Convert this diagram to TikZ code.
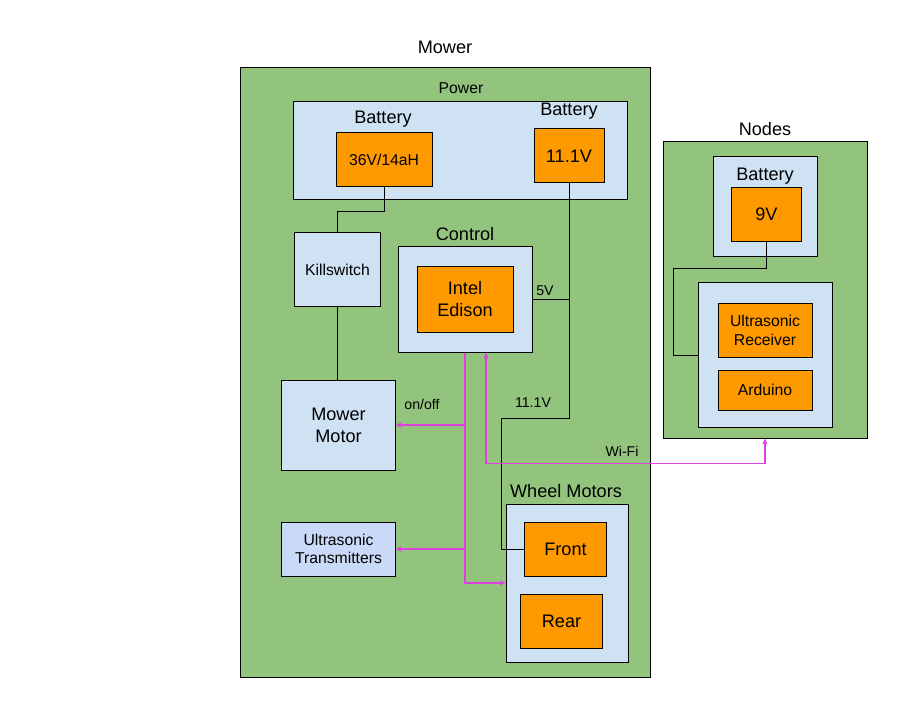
\documentclass[tikz,border=0pt]{standalone}
\usepackage{fontspec}
\setmainfont{Liberation Sans}
\usetikzlibrary{arrows.meta}
\definecolor{mowgreen}{RGB}{147,196,125}
\definecolor{paleblue}{RGB}{207,226,243}
\definecolor{lavblue}{RGB}{201,218,248}
\definecolor{partorange}{RGB}{255,153,0}
\definecolor{sigpink}{RGB}{224,64,224}
\begin{document}
\begin{tikzpicture}[x=0.75pt,y=0.75pt,yscale=-1,xscale=1,
    box/.style={draw=black,line width=0.75pt,inner sep=0pt,align=center},
    area/.style={box,fill=mowgreen},
    group/.style={box,fill=paleblue},
    part/.style={box,fill=partorange},
    bigtxt/.style={font=\fontsize{13.6}{16.5}\selectfont},
    smalltxt/.style={font=\fontsize{11.8}{14}\selectfont},
    tinytxt/.style={font=\fontsize{10.6}{12}\selectfont},
    wire/.style={draw=black,line width=0.75pt},
    sig/.style={draw=sigpink,line width=1.1pt,-{Stealth[length=4.5pt,width=4pt]}}]
\useasboundingbox (0,0) rectangle (911,713);
% Mower
\node [area,minimum width=307pt,minimum height=458pt] (mower) at (445.5,372.5) {};
\node [bigtxt] (mowerlbl) at (445,47) {Mower};
\node [smalltxt] (powerlbl) at (461,88) {Power};
\node [group,minimum width=251pt,minimum height=73.5pt] (power) at (460.5,151) {};
\node [bigtxt] (batlbl) at (383,119) {Battery};
\node [part,minimum width=72pt,minimum height=41pt,smalltxt] (bigbat) at (384,159.5) {36V/14aH};
\node [bigtxt] (batlblb) at (569,111) {Battery};
\node [part,minimum width=52.5pt,minimum height=40.5pt,bigtxt] (smallbat) at (569,156) {11.1V};
\node [group,minimum width=65pt,minimum height=55pt,smalltxt] (kill) at (337.5,269.5) {Killswitch};
\node [bigtxt] (ctrllbl) at (465,234) {Control};
\node [group,minimum width=100.5pt,minimum height=79pt] (control) at (465,299.5) {};
\node [part,minimum width=72pt,minimum height=50pt,bigtxt] (edison) at (465,299.5) {Intel\\Edison};
\node [group,minimum width=85pt,minimum height=67.5pt,bigtxt] (mowermotor) at (338.5,425) {Mower\\Motor};
\node [box,fill=lavblue,minimum width=85pt,minimum height=40.5pt,smalltxt] (ustx) at (338.5,549) {Ultrasonic\\Transmitters};
\node [bigtxt] (wheellbl) at (566,491) {Wheel Motors};
\node [group,minimum width=91.5pt,minimum height=118.5pt] (wheels) at (567,583) {};
\node [part,minimum width=61pt,minimum height=40.5pt,bigtxt] (front) at (565.5,549) {Front};
\node [part,minimum width=61pt,minimum height=41pt,bigtxt] (rear) at (561.5,621.5) {Rear};
% Nodes
\node [area,minimum width=153pt,minimum height=222pt] (nodes) at (765,290) {};
\node [bigtxt] (nodeslbl) at (765,129) {Nodes};
\node [group,minimum width=78pt,minimum height=75pt] (nbat) at (765,207) {};
\node [bigtxt] (nbatlbl) at (765,176) {Battery};
\node [part,minimum width=53pt,minimum height=41pt,bigtxt] (nine) at (766.5,214.5) {9V};
\node [group,minimum width=100.5pt,minimum height=108pt] (rxgroup) at (765,355) {};
\node [part,minimum width=70.5pt,minimum height=41pt,smalltxt] (rx) at (765,330.5) {Ultrasonic\\Receiver};
\node [part,minimum width=70.5pt,minimum height=30pt,smalltxt] (ard) at (765,390) {Arduino};
% power wires
\draw [wire] (bigbat.south) -- ++(0,24) -| (kill.north);
\draw [wire] (kill.south) -- (kill.south |- mowermotor.north);
\draw [wire] (smallbat.south) -- ++(0,235) -- ++(-68,0) |- (front.west);
\draw [wire] (control.east) -- (control.east -| smallbat.south);
\draw [wire] (nine.south) -- ++(0,26) -- ++(-93.5,0) |- (rxgroup.west);
\node [tinytxt] (fivelbl) at (545,291) {5V};
\node [tinytxt] (elevenlbl) at (533,403) {11.1V};
% signals
\draw [sig] (control.south) |- (wheels.west);
\draw [sig] (control.south |- mowermotor.east) -- (mowermotor.east);
\draw [sig] (control.south |- ustx.east) -- (ustx.east);
\draw [sig,{Stealth[length=4.5pt,width=4pt]}-{Stealth[length=4.5pt,width=4pt]}] ([xshift=15.75pt]control.south) -- ++(0,111) -| (nodes.south);
\node [tinytxt] (onofflbl) at (422,404) {on/off};
\node [tinytxt] (wifilbl) at (622,451) {Wi-Fi};
\end{tikzpicture}
\end{document}
